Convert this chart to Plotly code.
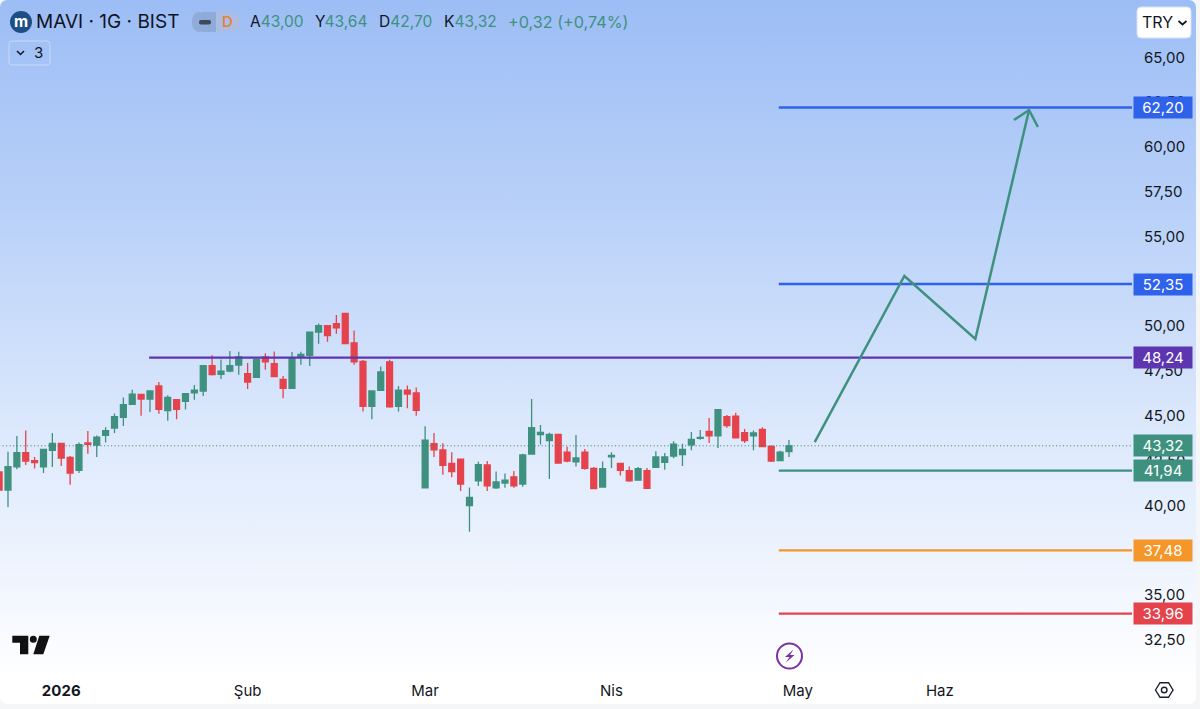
import urllib.parse
import plotly.graph_objects as go

# Daily sessions, MAVI
opens = [41.86,40.85,42.14,42.94,42.49,42.14,43.07,43.46,42.68,41.95,43.48,43.36,43.90,44.31,44.91,45.63,46.19,45.93,46.66,45.28,
         45.89,45.80,46.27,46.38,47.79,47.31,47.49,47.83,47.35,47.14,48.28,47.90,47.03,46.53,48.29,48.37,49.67,50.02,50.14,50.71,
         49.07,48.03,45.52,46.42,48.01,45.52,46.42,46.27,40.98,43.44,43.09,42.34,42.58,39.98,41.36,42.25,40.98,41.24,41.58,41.19,
         42.86,43.94,43.61,43.96,42.96,42.42,42.96,42.06,41.02,42.70,42.34,41.93,41.40,41.93,42.12,42.40,42.75,42.83,43.37,43.74,
         44.13,43.87,44.95,44.97,44.05,43.87,44.24,43.29,42.49,43.00]
highs = [42.10,42.99,43.87,44.18,42.70,43.12,44.03,43.46,42.75,43.51,44.15,43.89,44.35,45.13,46.01,46.45,46.19,46.38,46.88,46.14,
         45.89,46.23,46.71,47.79,48.37,48.14,48.61,48.57,47.94,48.20,48.48,48.59,47.21,48.55,48.57,49.67,50.15,50.02,50.62,50.71,
         49.76,48.11,46.38,47.74,48.13,46.66,46.69,46.58,44.41,44.03,43.46,42.96,42.58,41.00,42.43,42.47,41.88,41.77,41.91,42.88,
         45.93,44.48,44.05,43.96,43.27,43.92,43.14,42.14,42.44,42.96,42.34,42.16,42.14,42.08,43.01,42.92,43.57,43.44,44.09,44.20,
         44.87,45.34,45.04,45.17,44.26,44.17,44.35,43.35,43.05,43.64]
lows = [40.50,39.91,42.01,42.25,42.06,41.80,42.14,42.19,41.15,41.80,42.88,42.70,43.51,44.03,44.42,45.62,45.00,45.21,45.11,44.72,
        44.80,45.35,45.89,46.10,47.25,47.05,47.42,47.29,46.49,47.12,47.57,47.16,45.97,46.53,47.85,47.77,49.02,49.13,49.58,49.02,
        47.85,45.24,44.80,46.42,45.45,45.24,45.41,45.00,40.98,42.70,41.71,41.56,40.80,38.53,41.08,40.80,40.91,40.98,40.98,41.04,
        42.86,43.40,41.47,42.34,42.40,42.16,41.99,40.91,41.02,42.08,41.67,41.32,41.38,40.91,42.12,41.99,42.62,42.19,43.07,43.66,
        43.48,43.20,44.33,43.74,43.48,43.07,43.24,42.42,42.47,42.70]
closes = [40.85,42.16,42.94,42.47,42.38,43.12,43.46,42.64,41.80,43.38,43.40,43.81,44.16,44.95,45.62,46.21,45.93,46.38,45.35,46.02,
          45.35,46.23,46.42,47.79,47.29,47.49,47.79,48.28,46.88,48.14,48.00,47.18,46.53,48.20,48.42,49.67,50.02,49.47,49.91,49.02,
          48.00,45.52,46.38,47.44,45.49,46.42,46.21,45.30,43.64,43.10,42.23,41.88,41.19,40.44,42.27,41.08,41.30,41.41,41.08,42.81,
          44.33,44.07,43.96,42.36,42.47,42.64,42.06,40.93,42.05,42.79,41.95,41.36,42.05,40.95,42.70,42.70,43.42,43.12,43.68,43.79,
          43.87,45.34,44.45,43.76,43.61,44.04,43.27,42.47,42.96,43.32]
sessions = list(range(len(opens)))

month_positions = [7, 28, 48, 69, 90, 106]
month_labels = ["<b>2026</b>", "Şub", "Mar", "Nis", "May", "Haz"]
price_ticks = [32.5, 35, 37.5, 40, 42.5, 45, 47.5, 50, 52.5, 55, 57.5, 60, 62.5, 65]
price_labels = ["32,50", "35,00", "37,50", "40,00", "42,50", "45,00", "47,50",
                "50,00", "52,50", "55,00", "57,50", "60,00", "62,50", "65,00"]

level_values = [62.20, 52.35, 48.24, 41.94, 37.48, 33.96]
level_labels = ["62,20", "52,35", "48,24", "41,94", "37,48", "33,96"]
level_colors = ["#2f62ea", "#2f62ea", "#5e35b1", "#3f917f", "#f5962b", "#e5434c"]
level_starts = [87.85, 87.85, 16.9, 87.85, 87.85, 87.85]
last_close = 43.32
last_label = "43,32"

path_x = [91.9, 102.0, 110.0, 116.05]
path_y = [43.53, 52.80, 49.28, 62.06]
head_x = [114.35, 116.05, 117.05]
head_y = [61.50, 62.06, 61.11]

GREEN = "#3f917f"
RED = "#e5434c"
INK = "#131722"
FONT = "Inter, 'Noto Sans', sans-serif"
W, H = 1200, 709
X_MAX = 127.65
PLOT_RIGHT = 1132
PLOT_BOTTOM = 675
Y_RANGE = [30.53, 68.20]


def px(v):
    return v / W


def py(v):
    return 1 - v / H


def rrect(x0, y0, x1, y1, r):
    X0, X1, Y0, Y1 = px(x0), px(x1), py(y0), py(y1)
    rx, ry = px(r), r / H
    return (f"M {X0+rx} {Y0} L {X1-rx} {Y0} Q {X1} {Y0} {X1} {Y0-ry} L {X1} {Y1+ry} Q {X1} {Y1} {X1-rx} {Y1} "
            f"L {X0+rx} {Y1} Q {X0} {Y1} {X0} {Y1+ry} L {X0} {Y0-ry} Q {X0} {Y0} {X0+rx} {Y0} Z")


def poly(points, close=False):
    s = "M " + " L ".join(f"{px(a)} {py(b)}" for a, b in points)
    return s + (" Z" if close else "")


def shape(path, fill="rgba(0,0,0,0)", line=None, width=0):
    return dict(type="path", xref="paper", yref="paper", path=path, fillcolor=fill,
                line=dict(color=line or "rgba(0,0,0,0)", width=width), layer="above")


def circle(cx, cy, r, fill="rgba(0,0,0,0)", line=None, width=0):
    return dict(type="circle", xref="paper", yref="paper", x0=px(cx - r), x1=px(cx + r),
                y0=py(cy + r), y1=py(cy - r), fillcolor=fill,
                line=dict(color=line or "rgba(0,0,0,0)", width=width), layer="above")


def label(x, y, text, size=15, color=INK, anchor="left", weight=None):
    return dict(xref="paper", yref="paper", x=px(x), y=py(y), text=text, showarrow=False,
                xanchor=anchor, yanchor="middle", align="left", borderpad=0,
                font=dict(family=FONT, size=size, color=color, weight=weight or 400))


svg = (f'<svg xmlns="http://www.w3.org/2000/svg" width="{W}" height="{H}">'
       '<defs><linearGradient id="g" x1="0" y1="0" x2="0" y2="1">'
       '<stop offset="0" stop-color="#9cbdf5"/><stop offset="0.33" stop-color="#bcd3f9"/>'
       '<stop offset="0.62" stop-color="#dde9fc"/><stop offset="0.85" stop-color="#f3f7fe"/>'
       '<stop offset="0.96" stop-color="#ffffff"/><stop offset="1" stop-color="#ffffff"/>'
       '</linearGradient></defs>'
       '<rect x="0" y="0" width="1196" height="704" rx="7" fill="url(#g)"/></svg>')
bg_uri = "data:image/svg+xml," + urllib.parse.quote(svg)

fig = go.Figure()
fig.add_trace(go.Candlestick(
    x=sessions, open=opens, high=highs, low=lows, close=closes, whiskerwidth=0,
    increasing=dict(line=dict(color=GREEN, width=1.3), fillcolor=GREEN),
    decreasing=dict(line=dict(color=RED, width=1.3), fillcolor=RED),
    showlegend=False, hoverinfo="skip"))
fig.add_trace(go.Scatter(x=[sessions[0], X_MAX], y=[last_close, last_close], mode="lines",
                         line=dict(color="#2f7d6c", width=1, dash="1px,2.5px"), showlegend=False, hoverinfo="skip"))
for v, c, s in zip(level_values, level_colors, level_starts):
    fig.add_trace(go.Scatter(x=[s, X_MAX], y=[v, v], mode="lines", line=dict(color=c, width=2.3),
                             showlegend=False, hoverinfo="skip"))
fig.add_trace(go.Scatter(x=path_x, y=path_y, mode="lines", line=dict(color=GREEN, width=2.5),
                         showlegend=False, hoverinfo="skip"))
fig.add_trace(go.Scatter(x=head_x, y=head_y, mode="lines", line=dict(color=GREEN, width=2.5),
                         showlegend=False, hoverinfo="skip"))

# price tags
annotations = []
for v, t, c in list(zip(level_values, level_labels, level_colors)) + [(last_close, last_label, GREEN)]:
    annotations.append(dict(xref="paper", yref="y", x=px(1162.5), y=v, text=t, showarrow=False,
                            xanchor="center", yanchor="middle", width=58, height=21, bgcolor=c,
                            font=dict(family=FONT, size=15, color="#ffffff"), borderpad=0))


def g(s):
    return f'<span style="color:{GREEN}">{s}</span>'


annotations += [
    label(35, 22, "MAVI · 1G · BIST", size=19, color="#10141f"),
    label(249, 22, "A" + g("43,00"), size=15.5, color="#10141f"),
    label(314, 22, "Y" + g("43,64"), size=15.5, color="#10141f"),
    label(378, 22, "D" + g("42,70"), size=15.5, color="#10141f"),
    label(443, 22, "K" + g("43,32"), size=15.5, color="#10141f"),
    label(507, 22, g("+0,32 (+0,74%)"), size=16.2, color=GREEN),
    label(227.5, 22, "D", size=15, color="#e8802f", anchor="center", weight=500),
    label(21, 22, "<b>m</b>", size=15.5, color="#ffffff", anchor="center"),
    label(33, 53, "3", size=15, color=INK),
    label(1141, 22.5, "TRY", size=16, color=INK),
]

shapes = [
    circle(21, 22, 11, fill="#1d4f86"),
    shape(rrect(192, 12, 240, 32, 10), fill="#abbde2"),
    shape("M {a} {t} L {b} {t} L {b} {u} L {a} {u} Z".format(a=px(202), b=px(216), t=py(12), u=py(32)), fill="#8fabd9"),
    shape(rrect(192, 12, 206, 32, 9), fill="#8fabd9"),
    shape(rrect(199, 20, 211, 24.5, 2), fill="#3c4a5c"),
    shape(rrect(9, 41, 50, 65, 3), line="#c9d9f3", width=1),
    shape(poly([(17, 51), (20.5, 54.5), (24, 51)]), line=INK, width=1.5),
    shape(rrect(1137, 7, 1191, 38, 4), fill="#ffffff", line="#d4e1f7", width=1),
    shape(poly([(1178.5, 21), (1182.5, 24.5), (1186.5, 21)]), line=INK, width=1.7),
    # TradingView mark
    shape(poly([(12.3, 635.7), (28.3, 635.7), (28.3, 654.3), (20, 654.3), (20, 642.7), (12.3, 642.7)], True), fill="#111111"),
    circle(33.3, 639.3, 3.5, fill="#111111"),
    shape(poly([(39.3, 635.7), (49.7, 635.7), (43.3, 654.3), (33.3, 654.3)], True), fill="#111111"),
    # lightning badge
    circle(789.5, 656, 12.5, line="#7b2fa8", width=2),
    shape(poly([(793.5, 649.5), (785, 657), (789.5, 657), (786, 662.5), (794.5, 655), (790, 655)], True), fill="#7b2fa8"),
    # settings hexagon
    shape(poly([(1155.5, 690), (1160, 682.7), (1168.5, 682.7), (1173, 690), (1168.5, 697.3), (1160, 697.3)], True),
          line="#1c2030", width=1.4),
    circle(1164.2, 690, 2.8, line="#1c2030", width=1.4),
]

fig.update_layout(
    width=W, height=H, autosize=False, margin=dict(l=0, r=0, t=0, b=0, pad=0),
    paper_bgcolor="#f5f6f8", plot_bgcolor="rgba(0,0,0,0)", showlegend=False, boxgap=0.05,
    font=dict(family=FONT, color=INK),
    images=[dict(source=bg_uri, xref="paper", yref="paper", x=0, y=1, sizex=1, sizey=1, xanchor="left",
                 yanchor="top", sizing="stretch", layer="below")],
    annotations=annotations, shapes=shapes,
    xaxis=dict(domain=[0, px(PLOT_RIGHT)], range=[0.1, X_MAX], rangeslider=dict(visible=False),
               tickmode="array", tickvals=month_positions, ticktext=month_labels, ticks="outside", ticklen=2,
               tickcolor="rgba(0,0,0,0)", tickfont=dict(family=FONT, size=15, color=INK),
               showgrid=False, zeroline=False, showline=False),
    yaxis=dict(domain=[1 - PLOT_BOTTOM / H, 1], range=Y_RANGE, side="right", tickmode="array",
               tickvals=price_ticks, ticktext=price_labels, ticks="outside", ticklen=8,
               tickcolor="rgba(0,0,0,0)", tickfont=dict(family=FONT, size=15, color=INK),
               showgrid=False, zeroline=False, showline=False),
)

fig.write_html("out.html", config=dict(displayModeBar=False),
               post_script="document.body.style.margin='0';document.documentElement.style.overflow='hidden';")
